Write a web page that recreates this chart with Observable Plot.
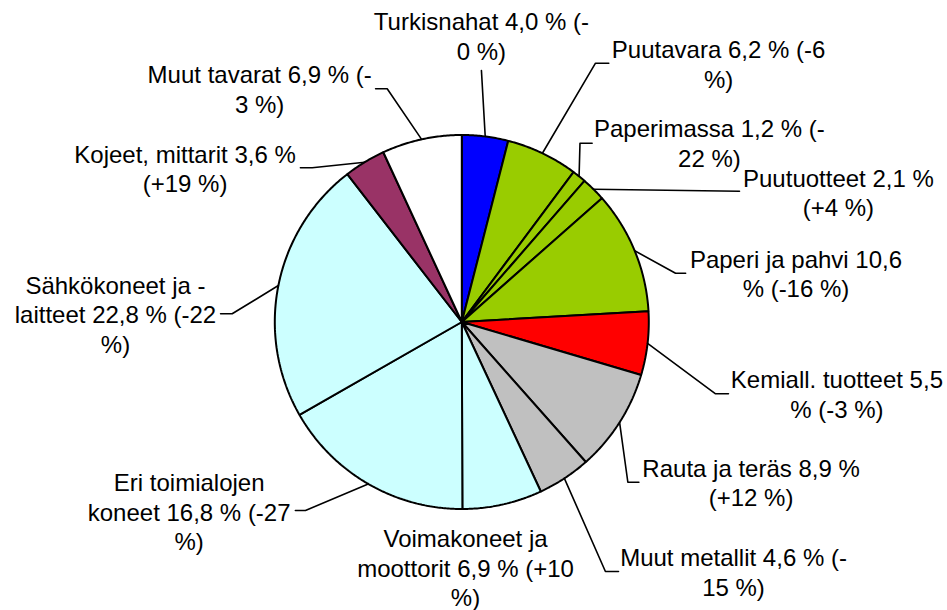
<!DOCTYPE html>
<html>
<head>
<meta charset="utf-8">
<script src="https://cdn.jsdelivr.net/npm/d3@7"></script>
<script src="https://cdn.jsdelivr.net/npm/@observablehq/plot@0.6"></script>
<style>
  html, body { margin: 0; padding: 0; background: #ffffff; }
  #chart svg { display: block; }
</style>
</head>
<body>
<div id="chart"></div>
<script>
// ---- data ----
const categories = [
  "Turkisnahat", "Puutavara", "Paperimassa", "Puutuotteet", "Paperi ja pahvi",
  "Kemiall. tuotteet", "Rauta ja teräs", "Muut metallit", "Voimakoneet ja moottorit",
  "Eri toimialojen koneet", "Sähkökoneet ja -laitteet", "Kojeet, mittarit", "Muut tavarat"
];
const shares = [4.0, 6.2, 1.2, 2.1, 10.6, 5.5, 8.9, 4.6, 6.9, 16.8, 22.8, 3.6, 6.9];
const changes = ["-0", "-6", "-22", "+4", "-16", "-3", "+12", "-15", "+10", "-27", "-22", "+19", "-3"];
const labels = [
  "Turkisnahat 4,0 % (-\n0 %)",
  "Puutavara 6,2 % (-6\n%)",
  "Paperimassa 1,2 % (-\n22 %)",
  "Puutuotteet 2,1 %\n(+4 %)",
  "Paperi ja pahvi 10,6\n% (-16 %)",
  "Kemiall. tuotteet 5,5\n% (-3 %)",
  "Rauta ja teräs 8,9 %\n(+12 %)",
  "Muut metallit 4,6 % (-\n15 %)",
  "Voimakoneet ja\nmoottorit 6,9 % (+10\n%)",
  "Eri toimialojen\nkoneet 16,8 % (-27\n%)",
  "Sähkökoneet ja -\nlaitteet 22,8 % (-22\n%)",
  "Kojeet, mittarit 3,6 %\n(+19 %)",
  "Muut tavarat 6,9 % (-\n3 %)"
];
const colors = [
  "#0000FF", "#99CC00", "#99CC00", "#99CC00", "#99CC00",
  "#FF0000", "#C0C0C0", "#C0C0C0", "#CCFFFF",
  "#CCFFFF", "#CCFFFF", "#993366", "#FFFFFF"
];

// ---- label layout (pie units: radius = 1, centre = 0,0) ----
const labelX = [0.105, 1.373, 1.324, 2.014, 1.787, 2.006, 1.547, 1.453, 0.020, -1.458, -1.852, -1.480, -1.081];
const labelY = [1.532, 1.382, 0.960, 0.696, 0.261, -0.384, -0.857, -1.334, -1.312, -1.011, 0.044, 0.824, 1.249];
const leaderBends = [
  [[0.105, 1.345]],
  [[0.715, 1.384], [0.786, 1.384]],
  [[0.632, 0.956], [0.697, 0.956]],
  [[1.485, 0.699]],
  [[1.143, 0.261], [1.197, 0.261]],
  [[1.357, -0.384], [1.426, -0.384]],
  [[0.888, -0.857], [0.947, -0.857]],
  [[0.768, -1.334], [0.838, -1.334]],
  [],
  [[-0.836, -1.008], [-0.890, -1.008]],
  [[-1.228, 0.044], [-1.290, 0.044]],
  [[-0.800, 0.825], [-0.863, 0.825]],
  [[-0.399, 1.247], [-0.461, 1.247]]
];

// ---- geometry from the data ----
const W = 947, H = 610, CX = 461.3, CY = 321.5, R = 187;
const total = d3.sum(shares);
let acc = 0;
const slices = shares.map((v, i) => {
  const a0 = acc / total * 2 * Math.PI;
  acc += v;
  const a1 = acc / total * 2 * Math.PI;
  return {i, name: categories[i], a0, a1, mid: (a0 + a1) / 2};
});
function slicePolygon(s) {
  const pts = [{x: 0, y: 0}];
  const n = Math.max(2, Math.ceil((s.a1 - s.a0) / (Math.PI / 360)));
  for (let k = 0; k <= n; k++) {
    const a = s.a0 + (s.a1 - s.a0) * k / n;
    pts.push({x: Math.sin(a), y: Math.cos(a)});
  }
  pts.push({x: 0, y: 0});
  return pts;
}
const sliceMarks = slices.map(s => Plot.line(slicePolygon(s), {
  x: "x", y: "y", fill: colors[s.i], stroke: "#000", strokeWidth: 2, strokeLinejoin: "miter"
}));
const leaderMarks = slices.filter(s => leaderBends[s.i].length).map(s => {
  const pts = [{x: Math.sin(s.mid), y: Math.cos(s.mid)}]
    .concat(leaderBends[s.i].map(([x, y]) => ({x, y})));
  return Plot.line(pts, {x: "x", y: "y", stroke: "#000", strokeWidth: 1.6});
});
const labelData = categories.map((c, i) => ({text: labels[i], x: labelX[i], y: labelY[i]}));

const chart = Plot.plot({
  width: W, height: H,
  margin: 0,
  x: {domain: [-CX / R, (W - CX) / R], range: [0, W], axis: null},
  y: {domain: [-(H - CY) / R, CY / R], range: [H, 0], axis: null},
  style: {background: "#ffffff"},
  marks: [
    ...sliceMarks,
    ...leaderMarks,
    Plot.text(labelData, {
      x: "x", y: "y", text: "text",
      fontSize: 24, lineHeight: 1.23,
      fontFamily: "Liberation Sans, Arial, sans-serif",
      fill: "#000", textAnchor: "middle"
    })
  ]
});
document.getElementById("chart").appendChild(chart);
</script>
</body>
</html>
